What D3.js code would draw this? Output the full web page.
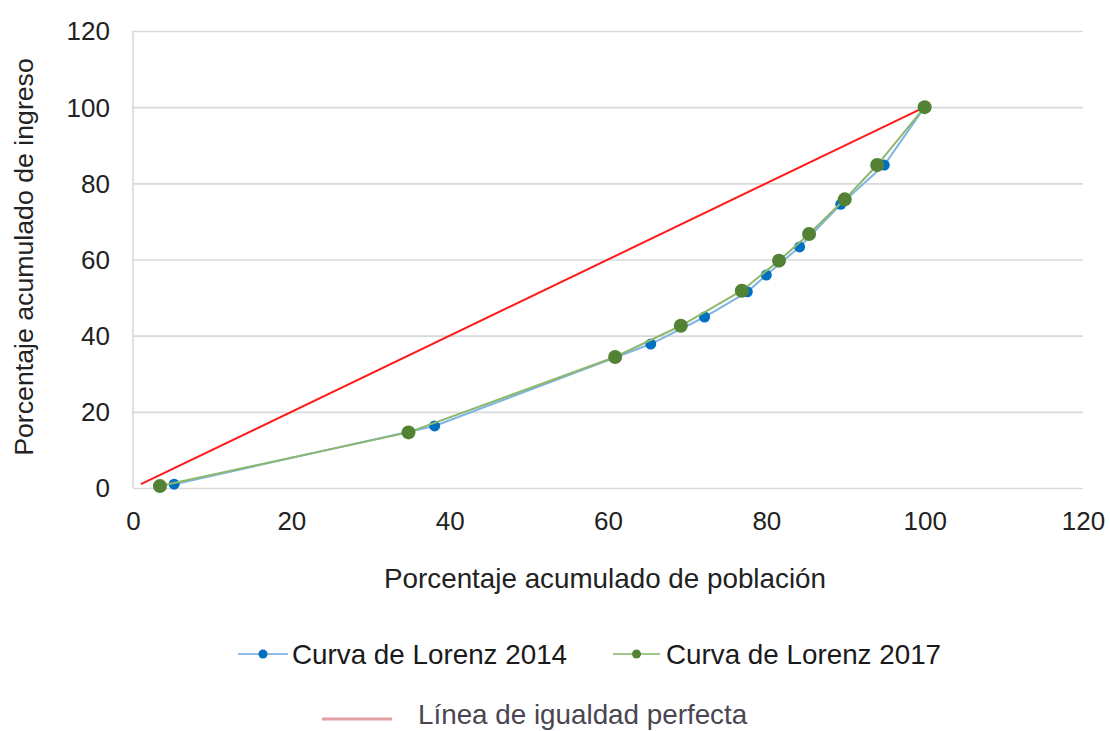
<!DOCTYPE html>
<html>
<head>
<meta charset="utf-8">
<script src="https://cdn.jsdelivr.net/npm/d3@7/dist/d3.min.js"></script>
<style>
  html, body { margin: 0; padding: 0; background: #ffffff; }
  svg { display: block; }
  text { font-family: "Liberation Sans", Arial, sans-serif; }
</style>
</head>
<body>
<svg id="chart" width="1110" height="731"></svg>
<script>
// ---- data ----
const xTicks = [0, 20, 40, 60, 80, 100, 120];
const yTicks = [0, 20, 40, 60, 80, 100, 120];

const pob2014 = [5.2, 38.1, 65.4, 72.2, 77.6, 80.0, 84.2, 89.4, 94.9, 100];
const ing2014 = [1.0, 16.3, 37.8, 44.9, 51.5, 55.9, 63.3, 74.5, 84.8, 100];

const pob2017 = [3.4, 34.8, 60.9, 69.2, 76.9, 81.6, 85.4, 89.9, 94.0, 100];
const ing2017 = [0.5, 14.6, 34.4, 42.6, 51.8, 59.7, 66.7, 75.8, 84.8, 100];

const igualdadX = [1, 100];
const igualdadY = [1, 100];

const seriesNames = ["Curva de Lorenz 2014", "Curva de Lorenz 2017", "Línea de igualdad perfecta"];
const xTitle = "Porcentaje acumulado de población";
const yTitle = "Porcentaje acumulado de ingreso";

// ---- layout ----
const svg = d3.select("#chart");
const L = 133, R = 1083, T = 31, B = 488;

const x = d3.scaleLinear().domain([0, 120]).range([L, R]);
const y = d3.scaleLinear().domain([0, 120]).range([B, T]);

// gridlines
svg.append("g")
  .attr("transform", `translate(${L},0)`)
  .call(d3.axisLeft(y).tickValues(yTicks).tickSize(-(R - L)).tickFormat(""))
  .call(g => g.select(".domain").remove())
  .call(g => g.selectAll("line").attr("stroke", "#d9d9d9").attr("stroke-width", 1.6));

// left border
svg.append("line")
  .attr("x1", L).attr("x2", L).attr("y1", T).attr("y2", B)
  .attr("stroke", "#d9d9d9").attr("stroke-width", 1.6);

// y tick labels
svg.append("g")
  .attr("transform", `translate(${L - 23},0)`)
  .call(d3.axisLeft(y).tickValues(yTicks).tickSize(0).tickPadding(0))
  .call(g => g.select(".domain").remove())
  .call(g => g.selectAll("text")
    .attr("font-size", 26).attr("fill", "#222").attr("dy", "0.34em")
    .style("font-family", '"Liberation Sans", Arial, sans-serif'));

// x tick labels
svg.append("g")
  .attr("transform", `translate(0,${B})`)
  .call(d3.axisBottom(x).tickValues(xTicks).tickSize(0).tickPadding(0))
  .call(g => g.select(".domain").remove())
  .call(g => g.selectAll("text")
    .attr("font-size", 26).attr("fill", "#222").attr("dy", null).attr("y", 42)
    .style("font-family", '"Liberation Sans", Arial, sans-serif'));

// axis titles
svg.append("text")
  .attr("x", 605).attr("y", 588)
  .attr("text-anchor", "middle")
  .attr("font-size", 27.8).attr("fill", "#222")
  .text(xTitle);

svg.append("text")
  .attr("transform", "translate(33,257) rotate(-90)")
  .attr("text-anchor", "middle")
  .attr("font-size", 26.7).attr("fill", "#222")
  .text(yTitle);

// lines
const line = d3.line().x(d => x(d[0])).y(d => y(d[1]));
const d2014 = pob2014.map((v, i) => [v, ing2014[i]]);
const d2017 = pob2017.map((v, i) => [v, ing2017[i]]);
const dIg = igualdadX.map((v, i) => [v, igualdadY[i]]);

svg.append("path").datum(dIg).attr("d", line)
  .attr("fill", "none").attr("stroke", "#ff1a1a").attr("stroke-width", 2);

svg.append("path").datum(d2014).attr("d", line)
  .attr("fill", "none").attr("stroke", "#7fb4e3").attr("stroke-width", 2);

svg.selectAll(".m2014").data(d2014).enter().append("circle")
  .attr("cx", d => x(d[0])).attr("cy", d => y(d[1])).attr("r", 5.5)
  .attr("fill", "#0070c0");

svg.append("path").datum(d2017).attr("d", line)
  .attr("fill", "none").attr("stroke", "#8cb86e").attr("stroke-width", 2);

svg.selectAll(".m2017").data(d2017).enter().append("circle")
  .attr("cx", d => x(d[0])).attr("cy", d => y(d[1])).attr("r", 7)
  .attr("fill", "#548235");

// legend
const lg = svg.append("g");
function legendMarker(x1, x2, cy, lineColor, dotColor, label, tx) {
  lg.append("line").attr("x1", x1).attr("x2", x2).attr("y1", cy).attr("y2", cy)
    .attr("stroke", lineColor).attr("stroke-width", 2);
  lg.append("circle").attr("cx", (x1 + x2) / 2).attr("cy", cy).attr("r", 4.5).attr("fill", dotColor);
  lg.append("text").attr("x", tx).attr("y", cy + 10).attr("font-size", 27.8).attr("fill", "#1a1a1a").text(label);
}
legendMarker(238, 288, 654, "#8fbde6", "#0070c0", seriesNames[0], 292);
legendMarker(613, 660, 654, "#a2c68a", "#548235", seriesNames[1], 666);

lg.append("line").attr("x1", 322).attr("x2", 392).attr("y1", 719).attr("y2", 719)
  .attr("stroke", "#e3a0a4").attr("stroke-width", 3);
lg.append("text").attr("x", 418).attr("y", 724).attr("font-size", 27.8).attr("fill", "#4a4550").text(seriesNames[2]);
</script>
</body>
</html>
